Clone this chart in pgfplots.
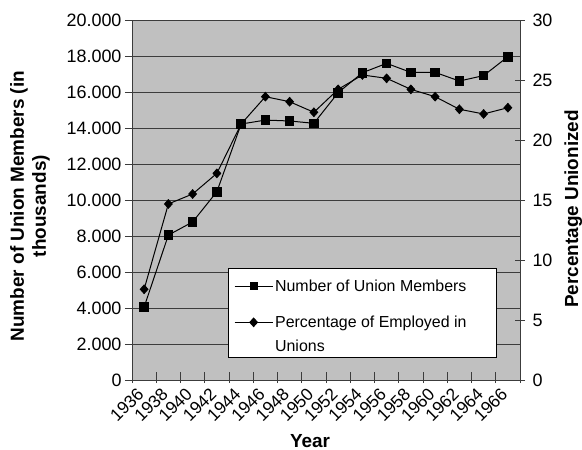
\documentclass[border=0pt]{standalone}
\usepackage{fontspec}
\setmainfont{Liberation Sans}
\usepackage{pgfplots}
\pgfplotsset{compat=1.18}

\definecolor{plotgray}{RGB}{192,192,192}
\definecolor{gridgray}{RGB}{60,60,60}

\tikzset{
  squareline/.style={black, line width=1bp, mark=square*, mark size=4.3bp, mark options={fill=black, solid}},
  diamondline/.style={black, line width=1bp, mark=diamond*, mark size=4.9bp, mark options={fill=black, solid, xscale=1.2}},
}
\pgfplotsset{
  unionbase/.style={
    scale only axis, width=388bp, height=360bp,
    xmin=-0.5, xmax=15.5,
    axis line style={gridgray, line width=0.9bp},
    /pgf/number format/assume math mode=true,
    tick label style={font=\fontsize{18}{20}\selectfont},
    every major x tick/.append style={draw=none},
  },
}
% legend row with a fixed height and depth
\newcommand{\legrow}[3]{\raisebox{0pt}[#1][#2]{#3}}

\begin{document}
\begin{tikzpicture}

% left axis: members (thousands)
\begin{axis}[
  unionbase,
  axis background/.style={fill=plotgray},
  axis y line*=left, axis x line*=bottom,
  ymin=0, ymax=20000,
  ytick={0,2000,...,20000},
  scaled y ticks=false,
  /pgf/number format/1000 sep={.},
  ymajorgrids,
  major grid style={gridgray, line width=0.8bp},
  ytick align=outside, major tick length=7bp,
  ytick style={gridgray, line width=0.9bp},
  xtick={0,...,15},
  xticklabels={1936,1938,1940,1942,1944,1946,1948,1950,1952,1954,1956,1958,1960,1962,1964,1966},
  xticklabel style={font=\fontsize{17.5}{19}\selectfont, xshift=-8bp, yshift=-3bp, rotate=45, anchor=north east, inner sep=0pt},
  minor xtick={-0.5,0.5,...,15.5},
  minor tick length=11bp, xtick align=center,
  every minor x tick/.append style={gridgray, line width=0.9bp, yshift=2.5bp},
  xlabel={Year},
  xlabel style={at={(axis description cs:0.459,0)}, anchor=center, yshift=-61bp, font=\bfseries\fontsize{19}{22}\selectfont},
  ylabel={Number of Union Members (in\\thousands)},
  ylabel style={at={(axis description cs:-0.263,0.483)}, anchor=center, align=center, font=\bfseries\fontsize{19}{22}\selectfont},
]
\addplot[squareline] coordinates {
  (0,4050) (1,8050) (2,8780) (3,10460) (4,14220) (5,14440) (6,14390) (7,14260)
  (8,15960) (9,17070) (10,17590) (11,17090) (12,17090) (13,16610) (14,16910) (15,17960)
};
\end{axis}

% right axis: percentage unionized
\begin{axis}[
  unionbase,
  axis y line*=right, axis x line=none,
  ymin=0, ymax=30,
  ytick={0,5,...,30},
  ytick align=center, major tick length=10bp,
  ytick style={gridgray, line width=0.9bp},
  yticklabel style={xshift=4bp},
  ylabel={Percentage Unionized},
  ylabel style={at={(axis description cs:1.137,0.475)}, anchor=center, font=\bfseries\fontsize{19}{22}\selectfont},
  legend style={at={(0.247,0.311)}, anchor=north west, draw=black, line width=0.6bp, fill=white,
    font=\fontsize{16}{20}\selectfont, cells={anchor=base west, inner ysep=0pt}, row sep=0pt,
    inner xsep=6bp, inner ysep=3bp},
  legend image code/.code={
    \draw[mark repeat=2, mark phase=2, #1] plot coordinates {(0bp,5.5bp) (19bp,5.5bp) (38bp,5.5bp)};
  },
]
\addlegendimage{squareline, mark size=3.6bp}
\addlegendentry{\legrow{18.5bp}{0bp}{Number of Union Members\hspace{22bp}}}
\addplot[diamondline, mark size=4.2bp] coordinates {
  (0,7.56) (1,14.67) (2,15.5) (3,17.22) (4,21.33) (5,23.61) (6,23.19) (7,22.31)
  (8,24.22) (9,25.42) (10,25.14) (11,24.22) (12,23.61) (13,22.56) (14,22.17) (15,22.69)
};
\addlegendentry{\legrow{30.5bp}{0bp}{Percentage of Employed in}}
\addlegendimage{empty legend}
\addlegendentry{\legrow{18bp}{5bp}{Unions}}
\end{axis}

\pgfresetboundingbox
\path[use as bounding box] (-132bp,-70bp) rectangle (450bp,380bp);
\end{tikzpicture}
\end{document}
